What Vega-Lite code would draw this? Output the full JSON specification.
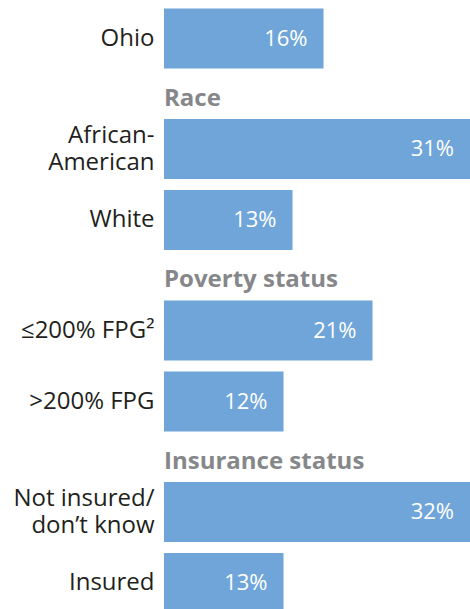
{
  "$schema": "https://vega.github.io/schema/vega-lite/v6.json",
  "padding": {"top": 3, "left": 0, "right": 0, "bottom": 0},
  "background": "white",
  "spacing": 12.5,
  "datasets": {
    "rows": [
      {"group": "Ohio", "label": "Ohio", "pct": 15.95, "text": "16%"},
      {"group": "Race", "label": "African-|American", "pct": 31, "text": "31%"},
      {"group": "Race", "label": "White", "pct": 12.85, "text": "13%"},
      {"group": "Poverty status", "label": "≤200% FPG²", "pct": 20.85, "text": "21%"},
      {"group": "Poverty status", "label": ">200% FPG", "pct": 11.95, "text": "12%"},
      {"group": "Insurance status", "label": "Not insured/|don’t know", "pct": 32, "text": "32%"},
      {"group": "Insurance status", "label": "Insured", "pct": 11.95, "text": "13%"}
    ]
  },
  "config": {
    "view": {"stroke": null},
    "font": "Open Sans",
    "title": {"anchor": "start", "frame": "group", "fontSize": 24, "font": "Open Sans", "fontWeight": "bold", "color": "#86878A", "offset": 3},
    "axisY": {"title": null, "domain": false, "ticks": false, "labelPadding": 10, "labelFontSize": 24, "labelFont": "Open Sans", "labelColor": "#231F20", "labelLineHeight": 26.5, "minExtent": 164, "maxExtent": 164, "labelLimit": 0, "labelExpr": "split(datum.value, '|')",
      "labelOffset": {"condition": {"test": "indexof(datum.value, '|') >= 0", "value": -13}, "value": 0}},
    "bar": {"color": "#6FA5D8"},
    "text": {"color": "white", "fontSize": 22, "align": "right", "baseline": "middle", "dx": -16, "font": "Open Sans"}
  },
  "vconcat": [
    {
      "data": {"name": "rows"},
      "transform": [{"filter": "datum.group === 'Ohio'"}],
      "width": 306, "height": {"step": 71},
      "encoding": {
        "y": {"field": "label", "type": "nominal", "sort": null, "scale": {"paddingInner": 0.155, "paddingOuter": 0.0775}},
        "x": {"field": "pct", "type": "quantitative", "axis": null, "scale": {"domain": [0, 30.6], "nice": false, "clamp": true}}
      },
      "layer": [{"mark": "bar"}, {"mark": "text", "encoding": {"text": {"field": "text"}}}]
    },
    {
      "data": {"name": "rows"},
      "title": "Race",
      "transform": [{"filter": "datum.group === 'Race'"}],
      "width": 306, "height": {"step": 71},
      "encoding": {
        "y": {"field": "label", "type": "nominal", "sort": null, "scale": {"paddingInner": 0.155, "paddingOuter": 0.0775}},
        "x": {"field": "pct", "type": "quantitative", "axis": null, "scale": {"domain": [0, 30.6], "nice": false, "clamp": true}}
      },
      "layer": [{"mark": "bar"}, {"mark": "text", "encoding": {"text": {"field": "text"}}}]
    },
    {
      "data": {"name": "rows"},
      "title": "Poverty status",
      "transform": [{"filter": "datum.group === 'Poverty status'"}],
      "width": 306, "height": {"step": 71},
      "encoding": {
        "y": {"field": "label", "type": "nominal", "sort": null, "scale": {"paddingInner": 0.155, "paddingOuter": 0.0775}},
        "x": {"field": "pct", "type": "quantitative", "axis": null, "scale": {"domain": [0, 30.6], "nice": false, "clamp": true}}
      },
      "layer": [{"mark": "bar"}, {"mark": "text", "encoding": {"text": {"field": "text"}}}]
    },
    {
      "data": {"name": "rows"},
      "title": "Insurance status",
      "transform": [{"filter": "datum.group === 'Insurance status'"}],
      "width": 306, "height": {"step": 71},
      "encoding": {
        "y": {"field": "label", "type": "nominal", "sort": null, "scale": {"paddingInner": 0.155, "paddingOuter": 0.0775}},
        "x": {"field": "pct", "type": "quantitative", "axis": null, "scale": {"domain": [0, 30.6], "nice": false, "clamp": true}}
      },
      "layer": [{"mark": "bar"}, {"mark": "text", "encoding": {"text": {"field": "text"}}}]
    }
  ]
}
